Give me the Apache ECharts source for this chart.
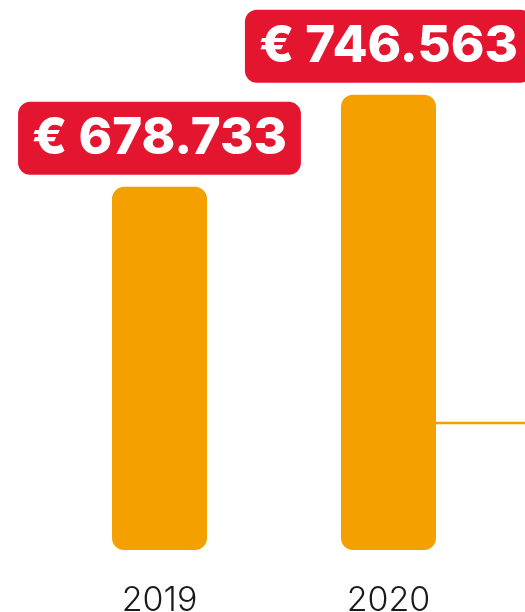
<!DOCTYPE html>
<html>
<head>
<meta charset="utf-8">
<title></title>
<style>
  html, body { margin: 0; padding: 0; background: #fff; }
</style>
</head>
<body>
<div id="container" style="height: 612px; width: 525px"></div>
<script type="text/javascript" src="https://cdn.jsdelivr.net/npm/echarts@6/dist/echarts.min.js"></script>
<script type="text/javascript">
var years = ['2019', '2020'];
var revenue = [678733, 746563];
// horizontal guide leaving the 2020 bar to the right edge
var guideX = [1.5, 2.0961];
var guideY = [504700, 504700];

var yMin = 411000;
var yMax = 816500;

function euro(v) {
    return '€ ' + String(v).replace(/\B(?=(\d{3})+(?!\d))/g, '.');
}

var dom = document.getElementById('container');
var myChart = echarts.init(dom);

var option = {
    animation: false,
    grid: [{
        left: 45,
        right: 22,
        top: 0,
        bottom: 62,
        outerBoundsMode: 'none'
    }, {
        // same plot band, reaching to the right edge, for the guide line
        left: 45,
        right: 0,
        top: 0,
        bottom: 62,
        outerBoundsMode: 'none'
    }],
    xAxis: [{
        type: 'category',
        gridIndex: 0,
        data: years,
        axisLine: { show: false },
        axisTick: { show: false },
        axisLabel: {
            margin: 34,
            fontSize: 34,
            fontWeight: 300,
            fontFamily: 'Inter',
            color: '#1a1a1a'
        }
    }, {
        type: 'value',
        gridIndex: 1,
        min: 0,
        max: 2.0961,
        show: false
    }],
    yAxis: [{
        type: 'value',
        gridIndex: 0,
        min: yMin,
        max: yMax,
        show: false
    }, {
        type: 'value',
        gridIndex: 1,
        min: yMin,
        max: yMax,
        show: false
    }],
    series: [{
        type: 'line',
        xAxisIndex: 1,
        yAxisIndex: 1,
        data: guideX.map(function (x, i) { return [x, guideY[i]]; }),
        symbol: 'none',
        z: 1,
        lineStyle: { color: '#F4A000', width: 2.5 }
    }, {
        type: 'bar',
        data: revenue,
        barWidth: 95,
        z: 2,
        itemStyle: {
            color: '#F4A000',
            borderRadius: 12
        },
        label: {
            show: true,
            position: 'top',
            distance: 12,
            formatter: function (p) { return euro(p.value); },
            color: '#fff',
            fontFamily: 'Inter',
            fontWeight: 800,
            fontSize: 51,
            backgroundColor: '#E3152F',
            borderRadius: 12,
            padding: [11, 14, 11, 14]
        }
    }]
};

myChart.setOption(option);
</script>
</body>
</html>
